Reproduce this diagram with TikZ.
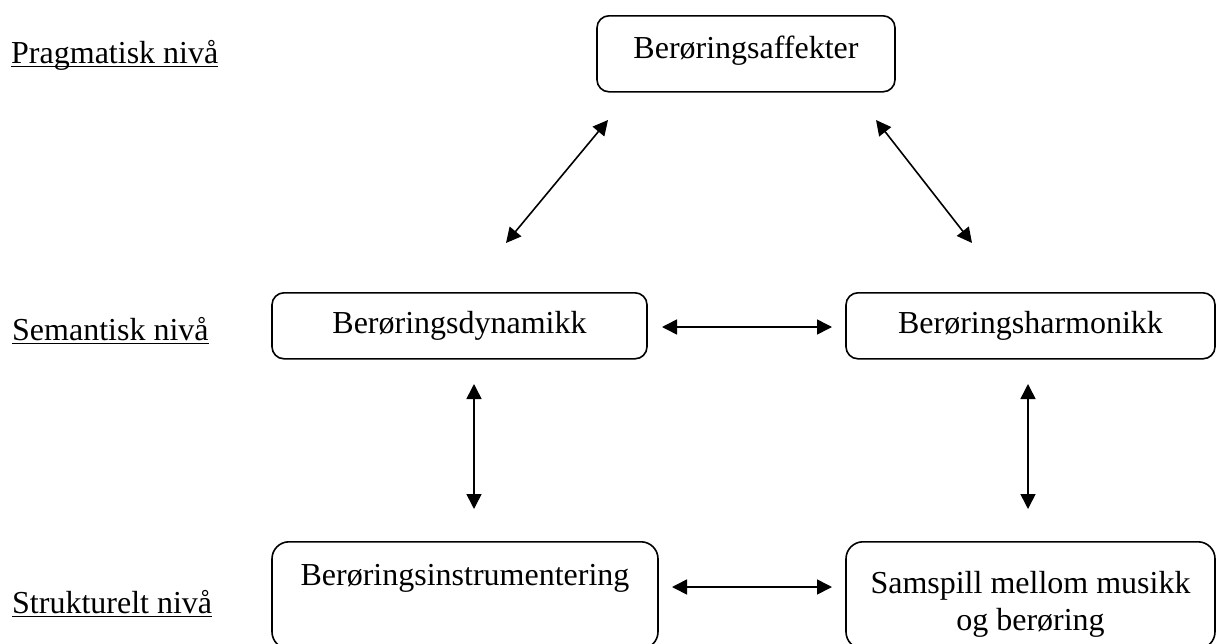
\documentclass[tikz,border=0pt]{standalone}
\usepackage{fontspec}
\setmainfont{Liberation Serif}
\usetikzlibrary{arrows.meta}
\begin{document}
\begin{tikzpicture}[x=1pt,y=-1pt,
  box/.style={draw, line width=1.6pt, inner sep=0pt, anchor=north, align=center,
    font=\fontsize{32}{36.8}\selectfont},
  lvl/.style={inner sep=0pt, anchor=base west, font=\fontsize{32}{36.8}\selectfont},
  link/.style={line width=1.6pt, {Triangle[length=15pt,width=15pt]}-{Triangle[length=15pt,width=15pt]}}]
\clip (0,0) rectangle (1216,643);
\useasboundingbox (0,0) rectangle (1216,643);
\fill[white] (0,0) rectangle (1216,643);

% boxes
\node[box, rounded corners=12pt, minimum width=298pt, text height=43pt, text depth=33pt] (top) at (746,15) {Berøringsaffekter};
\node[box, rounded corners=12pt, minimum width=375pt, text height=41pt, text depth=25pt] (midL) at (459.5,292) {Berøringsdynamikk};
\node[box, rounded corners=12pt, minimum width=369pt, text height=41pt, text depth=25pt] (midR) at (1030.5,292) {Berøringsharmonikk};
\node[box, rounded corners=17pt, minimum width=386pt, text height=44pt, text depth=63pt] (botL) at (465,541) {Berøringsinstrumentering};
\node[box, rounded corners=17pt, minimum width=369pt, minimum height=107pt] (botR) at (1030.5,541) {};
\node[inner sep=0pt, anchor=base, align=center, font=\fontsize{32}{36.8}\selectfont] (botRt) at (1030.5,630) {Samspill mellom musikk\\og berøring};

% level labels
\node[lvl] (pl) at (11,63) {Pragmatisk nivå};
\node[lvl] (sl) at (12,340) {Semantisk nivå};
\node[lvl] (stl) at (12,613) {Strukturelt nivå};
\foreach \n in {pl,sl,stl}
  \draw[line width=1.5pt] ([yshift=-3.5pt]\n.base west) -- ([yshift=-3.5pt]\n.base east);

% arrow end points
\coordinate (a1) at (608,120);  \coordinate (a2) at (506,243);
\coordinate (b1) at (876,120);  \coordinate (b2) at (972,243);
\coordinate (c1) at (662,327);  \coordinate (c2) at (832,327);
\coordinate (d1) at (474,384);  \coordinate (d2) at (474,509);
\coordinate (e1) at (1028,384); \coordinate (e2) at (1028,509);
\coordinate (f1) at (672,587);  \coordinate (f2) at (832,587);

\draw[link] (a1) -- (a2);
\draw[link] (b1) -- (b2);
\draw[link] (c1) -- (c2);
\draw[link] (d1) -- (d2);
\draw[link] (e1) -- (e2);
\draw[link] (f1) -- (f2);
\end{tikzpicture}
\end{document}
